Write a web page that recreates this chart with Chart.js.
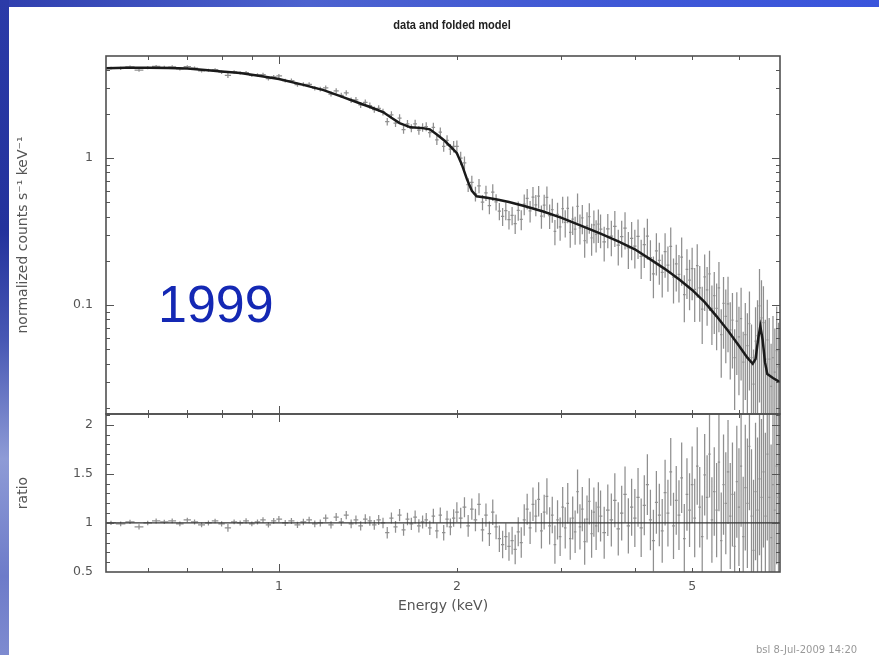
<!DOCTYPE html>
<html><head><meta charset="utf-8">
<script src="https://cdn.jsdelivr.net/npm/chart.js@4.4.1/dist/chart.umd.min.js"></script>
<style>
html,body{margin:0;padding:0;background:#fff;}
body{width:879px;height:655px;position:relative;overflow:hidden;}
canvas{position:absolute;left:0;}
#c1{top:0;}
#c2{top:400px;}
#bandTop{position:absolute;left:0;top:0;width:879px;height:7px;z-index:5;background:linear-gradient(90deg,#2f3fae 0%,#4c62cf 35%,#3f58d6 70%,#3a55dc 100%);}
#bandLeft{position:absolute;left:0;top:0;width:9px;height:655px;z-index:5;background:linear-gradient(180deg,#2b3ba8 0%,#23329c 35%,#4858b4 52%,#8e9bd6 70%,#6d7bc9 88%,#7e8bd0 100%);}
#title{position:absolute;left:302px;top:17px;width:300px;text-align:center;font:bold 13.5px/16px "Liberation Sans",Arial,sans-serif;color:#222;transform:scaleX(0.82);transform-origin:50% 50%;z-index:4;white-space:nowrap;}
#year{position:absolute;left:158px;top:278px;font:52px/52px "Liberation Sans",Arial,sans-serif;color:#1428b4;z-index:4;}
#stamp{position:absolute;left:756px;top:644px;font:10px/12px "DejaVu Sans",sans-serif;color:#999;z-index:4;white-space:nowrap;}
</style></head>
<body>
<canvas id="c1" width="879" height="420"></canvas>
<canvas id="c2" width="879" height="255"></canvas>
<div id="bandTop"></div><div id="bandLeft"></div>
<div id="title">data and folded model</div>
<div id="year">1999</div>
<div id="stamp">bsl 8-Jul-2009 14:20</div>
<script>
// ---- data ----
const energy = [
 0.52,0.54,0.56,0.58,0.60,0.62,0.64,0.66,0.68,0.70,0.72,0.74,0.76,0.78,0.80,0.82,0.84,0.86,0.88,0.90,0.92,0.94,0.96,0.98,1.00,
 1.025,1.05,1.075,1.1,1.125,1.15,1.175,1.2,1.225,1.25,1.275,1.3,1.325,1.35,1.375,1.4,1.425,1.45,1.475,1.5,1.525,1.55,1.575,1.6,1.625,1.65,1.675,1.7,1.725,1.75,1.775,1.8,1.825,1.85,1.875,1.9,1.925,1.95,1.975,
 2.00,2.03,2.06,2.09,2.12,2.15,2.18,2.21,2.24,2.27,2.30,2.33,2.36,2.39,2.42,2.45,2.48,2.51,2.54,2.57,2.60,2.63,2.66,2.69,2.72,2.75,2.78,2.81,2.84,2.87,2.90,2.93,2.96,2.99,3.02,3.05,3.08,3.11,3.14,3.17,3.20,3.23,3.26,3.29,3.32,3.35,3.38,3.41,3.44,3.47,
 3.50,3.55,3.60,3.65,3.70,3.75,3.80,3.85,3.90,3.95,4.00,4.05,4.10,4.15,4.20,4.25,4.30,4.35,4.40,4.45,4.50,4.55,4.60,4.65,4.70,4.75,4.80,4.85,4.90,4.95,5.00,5.05,5.10,5.15,5.20,5.25,5.30,5.35,5.40,5.45,5.50,5.55,5.60,5.65,5.70,5.75,5.80,5.85,5.90,5.95,6.00,6.05,6.10,6.15,6.20,6.25,6.30,6.35,6.40,6.45,6.50,6.55,6.60,6.65,6.70,6.75,6.80,6.85,6.90,6.95,7.00
];
const counts = [
 4.10,4.08,4.17,3.97,4.12,4.20,4.15,4.18,4.05,4.19,4.09,3.92,3.96,4.00,3.84,3.66,3.86,3.79,3.81,3.65,3.68,3.70,3.47,3.57,3.62,
 3.37,3.37,3.16,3.18,3.17,2.99,2.95,3.01,2.73,2.87,2.67,2.78,2.48,2.49,2.30,2.39,2.28,2.14,2.18,2.06,1.77,1.97,1.73,1.87,1.56,1.71,1.60,1.71,1.55,1.62,1.64,1.49,1.62,1.33,1.50,1.20,1.32,1.15,1.20,
 1.20,1.00,0.93,0.66,0.684,0.572,0.649,0.502,0.580,0.475,0.588,0.504,0.437,0.402,0.439,0.382,0.408,0.358,0.441,0.383,0.487,0.532,0.438,0.543,0.482,0.551,0.403,0.480,0.541,0.407,0.447,0.318,0.414,0.341,0.454,0.366,0.455,0.313,0.385,0.329,0.469,0.336,0.392,0.275,0.346,0.400,0.287,0.352,0.303,0.356,
 0.329,0.270,0.331,0.295,0.343,0.256,0.293,0.334,0.245,0.285,0.252,0.294,0.215,0.258,0.295,0.211,0.163,0.234,0.202,0.167,0.231,0.187,0.251,0.155,0.191,0.162,0.212,0.118,0.175,0.148,0.177,0.128,0.186,0.131,0.094,0.156,0.127,0.163,0.095,0.116,0.095,0.131,0.063,0.103,0.084,0.102,0.068,0.079,0.044,0.078,0.061,0.081,0.041,0.063,0.053,0.075,0.044,0.029,0.057,0.062,0.099,0.082,0.076,0.043,0.058,0.043,0.028,0.044,0.035,0.049,0.038
];
const ratio = [
 1.00,0.99,1.01,0.96,1.00,1.02,1.01,1.02,0.99,1.03,1.01,0.98,1.00,1.02,0.99,0.95,1.01,1.00,1.02,0.99,1.01,1.03,0.98,1.02,1.04,
 1.00,1.02,0.98,1.01,1.03,0.99,1.00,1.05,0.98,1.06,1.01,1.08,0.99,1.03,0.97,1.04,1.02,0.98,1.03,1.00,0.90,1.05,0.96,1.08,0.93,1.04,0.99,1.06,0.97,1.01,1.03,0.95,1.07,0.92,1.08,0.90,1.04,0.96,1.05,
 1.11,1.05,1.16,0.97,1.14,1.03,1.19,0.93,1.08,0.89,1.11,0.96,0.84,0.78,0.86,0.76,0.82,0.73,0.91,0.80,1.03,1.14,0.95,1.19,1.07,1.24,0.92,1.11,1.27,0.97,1.08,0.78,1.03,0.86,1.16,0.95,1.20,0.84,1.05,0.91,1.32,0.96,1.14,0.81,1.04,1.22,0.89,1.11,0.97,1.16,
 1.07,0.90,1.13,1.03,1.23,0.94,1.10,1.29,0.97,1.16,1.05,1.26,0.95,1.18,1.39,1.03,0.82,1.21,1.08,0.92,1.31,1.10,1.52,0.97,1.23,1.08,1.46,0.84,1.29,1.13,1.39,1.05,1.58,1.16,0.86,1.49,1.26,1.70,1.03,1.32,1.13,1.62,0.82,1.39,1.20,1.52,1.07,1.29,0.76,1.42,1.16,1.58,0.86,1.36,1.20,1.78,1.07,0.72,1.32,1.13,1.45,1.26,1.52,1.07,1.70,1.26,0.85,1.39,1.13,1.58,1.26
];
const relErr = [
 0.022,0.024,0.022,0.026,0.023,0.025,0.022,0.024,0.025,0.023,0.026,0.024,0.025,0.023,0.026,0.040,0.024,0.025,0.027,0.025,0.026,0.028,0.027,0.029,0.030,
 0.030,0.031,0.032,0.033,0.034,0.035,0.036,0.037,0.038,0.040,0.041,0.042,0.044,0.045,0.046,0.048,0.049,0.050,0.052,0.054,0.058,0.056,0.060,0.062,0.061,0.064,0.063,0.066,0.068,0.067,0.070,0.072,0.074,0.076,0.078,0.080,0.083,0.086,0.090,
 0.100,0.105,0.102,0.110,0.108,0.115,0.112,0.120,0.118,0.125,0.130,0.127,0.135,0.140,0.137,0.145,0.142,0.150,0.148,0.155,0.160,0.158,0.165,0.170,0.166,0.175,0.180,0.176,0.185,0.190,0.186,0.195,0.200,0.196,0.205,0.210,0.206,0.215,0.220,0.216,0.225,0.230,0.226,0.235,0.240,0.236,0.245,0.250,0.246,0.255,
 0.260,0.265,0.262,0.270,0.275,0.272,0.280,0.285,0.282,0.290,0.295,0.300,0.298,0.305,0.310,0.308,0.315,0.320,0.318,0.325,0.335,0.340,0.345,0.338,0.350,0.355,0.360,0.352,0.370,0.375,0.390,0.400,0.395,0.410,0.420,0.415,0.430,0.440,0.435,0.450,0.480,0.500,0.490,0.510,0.520,0.530,0.540,0.530,0.560,0.570,0.600,0.620,0.610,0.640,0.660,0.650,0.680,0.720,0.700,0.740,0.780,0.800,0.770,0.850,0.880,0.900,0.950,0.920,0.980,1.000,1.000
];
const modelEnergy = [0.51,0.55,0.60,0.65,0.70,0.75,0.80,0.86,0.93,1.00,1.10,1.19,1.27,1.355,1.43,1.50,1.55,1.60,1.67,1.75,1.80,1.85,1.90,1.95,2.00,2.04,2.08,2.12,2.16,2.25,2.35,2.45,2.60,2.80,3.00,3.25,3.50,3.75,4.00,4.25,4.50,4.75,5.00,5.25,5.50,5.75,6.00,6.20,6.33,6.40,6.47,6.52,6.58,6.64,6.70,6.85,7.04];
const modelCounts = [4.08,4.12,4.12,4.10,4.07,3.98,3.88,3.79,3.62,3.45,3.15,2.90,2.64,2.40,2.22,2.06,1.88,1.73,1.62,1.60,1.57,1.45,1.33,1.20,1.08,0.90,0.72,0.60,0.55,0.537,0.522,0.503,0.473,0.434,0.394,0.346,0.307,0.272,0.240,0.205,0.176,0.150,0.127,0.105,0.084,0.067,0.053,0.044,0.040,0.043,0.060,0.072,0.058,0.041,0.034,0.032,0.030];

const xTickValues = [1, 2, 5];
const xTickLabels = ['1', '2', '5'];
const xMajorMarks = [1];
const xMinorMarks = [0.6, 0.7, 0.8, 0.9, 2, 3, 4, 5, 6, 7];
const countTickValues = [0.1, 1];
const countTickLabels = ['0.1', '1'];
const countMinorMarks = [0.02,0.03,0.04,0.05,0.06,0.07,0.08,0.09,0.2,0.3,0.4,0.5,0.6,0.7,0.8,0.9,2,3,4];
const ratioTickValues = [0.5, 1, 1.5, 2];
const ratioTickLabels = ['0.5', '1', '1.5', '2'];
const ratioMinorMarks = [0.6,0.7,0.8,0.9,1.1,1.2,1.3,1.4,1.6,1.7,1.8,1.9,2.1];

const X_MIN = 0.51, X_MAX = 7.04;

// ---- build error-bar crosses (segments separated by gaps) ----
const edges = energy.map((e, i) => {
  const prev = i > 0 ? energy[i - 1] : e - (energy[1] - energy[0]);
  const next = i < energy.length - 1 ? energy[i + 1] : e + (e - energy[i - 1]);
  return [(prev + e) / 2, (e + next) / 2];
});
function crosses(vals, lo, hi) {
  const pts = [];
  vals.forEach((v, i) => {
    const e = energy[i];
    pts.push({x: e, y: lo[i]}, {x: e, y: hi[i]}, {x: e, y: null});
    pts.push({x: edges[i][0], y: v}, {x: edges[i][1], y: v}, {x: edges[i][1], y: null});
  });
  return pts;
}
const countLo = counts.map((c, i) => Math.max(c * (1 - relErr[i]), 1e-4));
const countHi = counts.map((c, i) => c * (1 + relErr[i]));
const ratioLo = ratio.map((r, i) => r - relErr[i]);
const ratioHi = ratio.map((r, i) => r + relErr[i]);

const frameTicks = {
  id: 'frameTicks',
  afterDatasetsDraw(chart, args, o) {
    const {ctx, chartArea: a} = chart;
    const xs = chart.scales.x, ys = chart.scales.y;
    ctx.save();
    ctx.strokeStyle = '#555';
    ctx.lineWidth = 1;
    ctx.beginPath();
    const vx = (vals, len) => vals.forEach(v => {
      const p = Math.round(xs.getPixelForValue(v)) + 0.5;
      if (p < a.left + 1 || p > a.right - 1) return;
      ctx.moveTo(p, a.bottom); ctx.lineTo(p, a.bottom - len);
      ctx.moveTo(p, a.top); ctx.lineTo(p, a.top + len);
    });
    const vy = (vals, len) => vals.forEach(v => {
      const p = Math.round(ys.getPixelForValue(v)) + 0.5;
      if (p < a.top + 1 || p > a.bottom - 1) return;
      ctx.moveTo(a.left, p); ctx.lineTo(a.left + len, p);
      ctx.moveTo(a.right, p); ctx.lineTo(a.right - len, p);
    });
    vx(o.xMajor, 8); vx(o.xMinor, 4); vy(o.yMajor, 8); vy(o.yMinor, 4);
    ctx.stroke();
    ctx.lineWidth = 1.6;
    ctx.strokeStyle = '#505050';
    ctx.strokeRect(a.left, a.top, a.right - a.left, a.bottom - a.top);
    ctx.restore();
  }
};
function noPad(s) { s.paddingTop = 0; s.paddingBottom = 0; s.paddingLeft = 0; s.paddingRight = 0; }

const tickFont = {family: '"DejaVu Sans", sans-serif', size: 12.5};
const titleFont = {family: '"DejaVu Sans", sans-serif', size: 14};
const barColor = 'rgba(85,85,85,0.66)';

// ---- top panel: data and folded model ----
new Chart(document.getElementById('c1'), {
  type: 'scatter',
  data: {datasets: [
    {label: 'model', data: modelEnergy.map((e, i) => ({x: e, y: modelCounts[i]})), showLine: true,
     borderColor: '#1a1a1a', borderWidth: 2.5, pointRadius: 0, order: 0},
    {label: 'data', data: crosses(counts, countLo, countHi), showLine: true, spanGaps: false,
     borderColor: barColor, borderWidth: 1.25, pointRadius: 0, order: 1}
  ]},
  options: {
    responsive: false, animation: false, devicePixelRatio: 1,
    layout: {padding: {left: 0, right: 99, top: 56, bottom: 6}},
    plugins: {
      legend: {display: false}, tooltip: {enabled: false}, title: {display: false},
      frameTicks: {xMajor: xMajorMarks, xMinor: xMinorMarks, yMajor: countTickValues, yMinor: countMinorMarks}
    },
    scales: {
      x: {type: 'logarithmic', min: X_MIN, max: X_MAX, display: false, afterFit: noPad},
      y: {type: 'logarithmic', min: 0.0182, max: 4.95,
        afterFit(s) { s.width = 106; noPad(s); },
        afterBuildTicks(s) { s.ticks = countTickValues.map(v => ({value: v})); },
        ticks: {callback: (v, i) => countTickLabels[i], font: tickFont, color: '#555', padding: 13},
        grid: {display: false, drawTicks: false}, border: {display: false},
        title: {display: true, text: 'normalized counts s⁻¹ keV⁻¹', font: titleFont, color: '#555', padding: {top: 15, bottom: 0}}
      }
    }
  },
  plugins: [frameTicks]
});

// ---- bottom panel: ratio ----
new Chart(document.getElementById('c2'), {
  type: 'scatter',
  data: {datasets: [
    {label: 'unity', data: [{x: X_MIN, y: 1}, {x: X_MAX, y: 1}], showLine: true,
     borderColor: '#333', borderWidth: 1.3, pointRadius: 0, order: 0},
    {label: 'ratio', data: crosses(ratio, ratioLo, ratioHi), showLine: true, spanGaps: false,
     borderColor: barColor, borderWidth: 1.25, pointRadius: 0, order: 1}
  ]},
  options: {
    responsive: false, animation: false, devicePixelRatio: 1,
    layout: {padding: {left: 0, right: 99, top: 14, bottom: 0}},
    plugins: {
      legend: {display: false}, tooltip: {enabled: false},
      frameTicks: {xMajor: xMajorMarks, xMinor: xMinorMarks, yMajor: ratioTickValues, yMinor: ratioMinorMarks}
    },
    scales: {
      x: {type: 'logarithmic', min: X_MIN, max: X_MAX,
        afterFit(s) { s.height = 83; noPad(s); },
        afterBuildTicks(s) { s.ticks = xTickValues.map(v => ({value: v})); },
        ticks: {callback: (v, i) => xTickLabels[i], autoSkip: false, maxRotation: 0, font: tickFont, color: '#555', padding: 7},
        grid: {display: false, drawTicks: false}, border: {display: false},
        title: {display: true, text: 'Energy (keV)', font: titleFont, color: '#555', padding: {top: 0, bottom: 40}}
      },
      y: {type: 'linear', min: 0.5, max: 2.11,
        afterFit(s) { s.width = 106; noPad(s); },
        afterBuildTicks(s) { s.ticks = ratioTickValues.map(v => ({value: v})); },
        ticks: {callback: (v, i) => ratioTickLabels[i], font: tickFont, color: '#555', padding: 13},
        grid: {display: false, drawTicks: false}, border: {display: false},
        title: {display: true, text: 'ratio', font: titleFont, color: '#555', padding: {top: 15, bottom: 0}}
      }
    }
  },
  plugins: [frameTicks]
});
</script>
</body></html>
